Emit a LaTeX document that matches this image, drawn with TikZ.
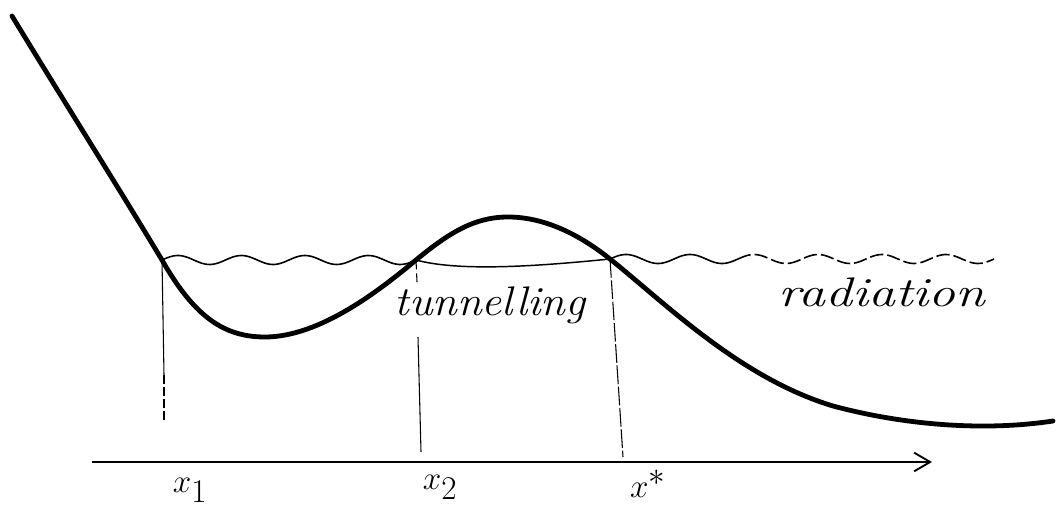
\documentclass[tikz,border=0pt]{standalone}
\usetikzlibrary{arrows.meta}
\begin{document}
\begin{tikzpicture}[x=0.75pt,y=-0.75pt,
  potential/.style={line width=3.6pt,line cap=round,line join=round},
  thin/.style={line width=1.1pt},
  wave/.style={line width=1.2pt,smooth,samples=90,variable=\t},
  guide/.style={line width=0.8pt},
  lbl/.style={font=\fontsize{34}{36}\selectfont, inner sep=0pt},
  word/.style={font=\itshape\fontsize{31}{33}\selectfont, inner sep=0pt}]
\useasboundingbox (0,0) rectangle (1056,509);
% turning points
\coordinate (p1) at (162,260);
\coordinate (p2) at (416,260);
\coordinate (p3) at (610,259);
% potential curve
\draw[potential] (12,16) .. controls (60,95) and (120,190) .. (p1)
  .. controls (195,318) and (225,337) .. (265,337)
  .. controls (320,337) and (380,290) .. (p2)
  .. controls (450,232) and (475,217) .. (508,217)
  .. controls (545,217) and (580,235) .. (p3)
  .. controls (665,303) and (740,378) .. (833,406)
  .. controls (900,424) and (980,432) .. (1053,421);
% energy level: radiation waves and tunnelling segment
\draw[wave,domain=162:416] plot (\t,{260-4.5*sin((\t-162)*5.669)});
\draw[thin] (p2) .. controls (460,272) and (540,266) .. (p3);
\draw[wave,domain=610:738] plot (\t,{259-4.5*sin((\t-610)*5.625)});
\draw[wave,domain=738:994,dash pattern=on 10pt off 3pt] plot (\t,{259-4.5*sin((\t-610)*5.625)});
% axis
\coordinate (a0) at (92,462);
\coordinate (a1) at (932,462);
\draw[line width=1.7pt,-{Straight Barb[length=12pt,width=14pt,line width=1.4pt]}] (a0) -- (a1);
% drop lines
\coordinate (q1) at (164,375);
\coordinate (q1e) at (164,420);
\draw[guide] (p1) -- (q1);
\draw[guide,dash pattern=on 7pt off 2pt] (q1) -- (q1e);
\coordinate (q2a) at (417,282);
\coordinate (q2b) at (418,337);
\coordinate (q2c) at (421,452);
\draw[guide,dash pattern=on 7pt off 3pt] (p2) -- (q2a);
\draw[guide] (q2b) -- (q2c);
\coordinate (q3) at (623,457);
\draw[guide,dash pattern=on 14pt off 2pt] (p3) -- (q3);
% labels
\node[lbl] (lx1) at (190,490) {$x_1$};
\node[lbl] (lx2) at (440,487) {$x_2$};
\node[lbl] (lx3) at (648,484) {$x^*$};
\node[word,xscale=1.08] (tun) at (490,305) {tunnelling};
\node[word,xscale=1.3] (rad) at (882,292) {radiation};
\end{tikzpicture}
\end{document}
